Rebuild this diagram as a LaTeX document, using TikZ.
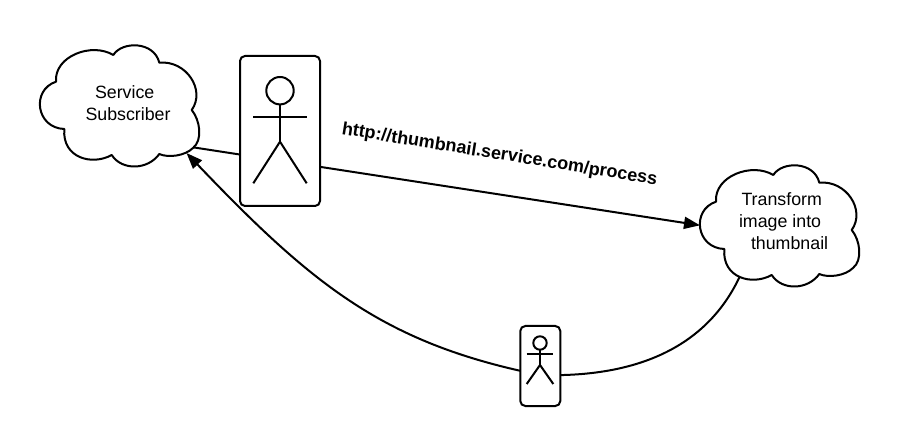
\documentclass[tikz,border=0pt]{standalone}
\usepackage{fontspec}
\setmainfont{Liberation Sans}
\usetikzlibrary{arrows.meta}
\tikzset{
  every path/.style={line width=2pt},
  cloudline/.style={draw=black,fill=white,line join=round},
  flow/.style={draw=black,-{Triangle[length=16pt,width=12pt]}},
  cardbox/.style={draw=black,fill=white,rounded corners=5pt,line width=2pt,inner sep=0pt},
  limb/.style={draw=black,line width=2pt},
  label/.style={inner sep=0pt,align=left,font=\fontsize{17.8}{21.7}\selectfont},
}
\newcommand{\cloudshape}[1]{%
  \path[cloudline,shift={#1}]
    (56,81.7) .. controls (54,56) and (92,42) .. (113.3,55)
    .. controls (122,41) and (154,41) .. (159.3,62.7)
    .. controls (186,60) and (206,90) .. (191.7,110)
    .. controls (200,120) and (203,140) .. (193,148)
    .. controls (185,156) and (168,158) .. (159.3,154)
    .. controls (148,170) and (122,171) .. (111.7,155)
    .. controls (92,166) and (62,158) .. (64.3,129)
    .. controls (36,128) and (31,90) .. (56,81.7)
    -- cycle;}
\newcommand{\stickman}[7]{% cx, head y, r, arm y, half span, hip y, foot y
  \draw[limb] (#1,#2) circle[radius=#3];
  \draw[limb] (#1,#2+#3) -- (#1,#6);
  \draw[limb] (#1-#5,#4) -- (#1+#5,#4);
  \draw[limb] (#1-#5,#7) -- (#1,#6) -- (#1+#5,#7);}
\begin{document}
\begin{tikzpicture}[x=1pt,y=-1pt]
\useasboundingbox (0,0) rectangle (908,446);
\fill[white] (0,0) rectangle (908,446);
\coordinate (subOut) at (191,147);
\coordinate (subIn) at (186.5,153);
\coordinate (thumbIn) at (700,225.3);
\coordinate (thumbOut) at (740,276);
\coordinate (lowMid) at (540,375);
\draw[flow] (subOut) -- (thumbIn);
\draw[flow] (thumbOut) .. controls (708,345) and (640,378) .. (lowMid)
   .. controls (385,344) and (313.5,286) .. (subIn);
\cloudshape{(0,0)}
\cloudshape{(660,120)}
\node[cardbox,minimum width=80pt,minimum height=150pt] (card1) at (280,131) {};
\node[cardbox,minimum width=40pt,minimum height=80pt] (card2) at (540.3,366) {};
\stickman{280}{90.7}{13.7}{117.3}{26.7}{141.7}{183.3}
\stickman{540}{343}{6.7}{354.3}{13.3}{365}{384}
\node[label,anchor=north west] (subtext) at (84.5,84.5) {\hspace*{9.5pt}Service\\Subscriber};
\node[label,anchor=north west] (thumbtext) at (738,192) {\hspace*{2.5pt}Transform\\image into\\\hspace*{12pt}thumbnail};
\node[inner sep=0pt,rotate=-9.2,font=\fontsize{18}{20}\selectfont\bfseries] (url) at (499.5,155) {http://thumbnail.service.com/process};
\end{tikzpicture}
\end{document}
